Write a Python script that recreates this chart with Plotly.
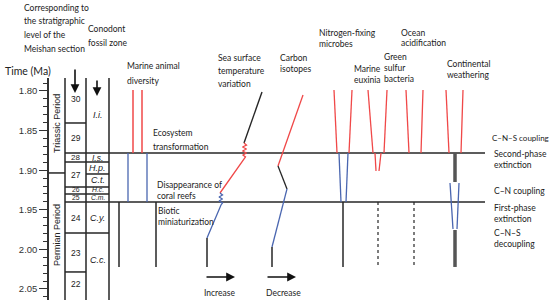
import plotly.graph_objects as go

# ---------------- data ----------------
# vertical axis: time (Ma, as labelled in the figure); horizontal: schematic column position
y_tick_vals = [1.80, 1.85, 1.90, 1.95, 2.00, 2.05]
t_top, t_bot = 1.7836, 2.0639

column_x = [65, 86, 109]
extinction_t = [1.8783, 1.9402]
extinction_x = [65, 485]
period_boundary_t = 1.9035
bed_only_bounds_t = [1.8404, 2.0285]
shared_bounds_t = [1.8896, 1.9212, 1.9300, 1.9793]
zone_only_bounds_t = [1.9048]

beds = ['30', '29', '28', '27', '26', '25', '24', '23', '22']
bed_t = [1.8101, 1.8593, 1.8846, 1.9061, 1.9244, 1.9350, 1.9604, 2.0045, 2.0437]
zones = ['I.i.', 'I.s.', 'H.p.', 'C.t.', 'H.c.', 'C.m.', 'C.y.', 'C.c.']
zone_t = [1.8303, 1.8846, 1.8972, 1.9124, 1.9244, 1.9350, 1.9604, 2.0134]

# Marine animal diversity
mad_red_x = [133, 142]
mad_red_t = [1.7988, 1.8783]
mad_blue_x = [128, 147]
mad_blue_t = [1.8783, 1.9402]
mad_black_x = [119, 156]
mad_black_t = [1.9402, 2.0222]

# Sea surface temperature variation
sst_black_x = [262, 244]
sst_black_t = [1.8013, 1.8657]
sst_red_x = [244, 246.5, 242.5, 246.5, 242.5, 246.5, 243, 245.5, 220]
sst_red_t = [1.8657, 1.8682, 1.8707, 1.8733, 1.8758, 1.8783, 1.8808, 1.8833, 1.9288]
sst_blue_x = [220, 222.5, 219, 222.5, 219, 222.5, 221, 207]
sst_blue_t = [1.9288, 1.9313, 1.9338, 1.9364, 1.9389, 1.9414, 1.9439, 1.9856]
sst_base_x = [207, 207]
sst_base_t = [1.9856, 2.0222]

# Carbon isotopes
cis_red_x = [303, 278]
cis_red_t = [1.8051, 1.8947]
cis_black_x = [278, 287]
cis_black_t = [1.8947, 1.9237]
cis_blue_x = [287, 272]
cis_blue_t = [1.9237, 1.9970]
cis_base_x = [272, 272]
cis_base_t = [1.9970, 2.0222]

# Nitrogen-fixing microbes
nfm_red = [([334, 337], [1.7988, 1.8783]), ([352, 349], [1.7988, 1.8783])]
nfm_blue = [([339, 341], [1.8783, 1.9402]), ([348, 346], [1.8783, 1.9402])]
nfm_base_x = [343, 343]
nfm_base_t = [1.9402, 2.0222]

# Marine euxinia
mex_red = [([368, 373], [1.7988, 1.8783]), ([387, 384], [1.7988, 1.8783]),
           ([375, 376], [1.8783, 1.9010]), ([381, 379], [1.8783, 1.9010])]
mex_base_x = [378, 378]
mex_base_t = [1.9402, 2.0222]

# Green sulfur bacteria / ocean acidification
gsb_red = [([406, 409], [1.7988, 1.8783]), ([423, 421], [1.7988, 1.8783])]
gsb_base_x = [414, 414]
gsb_base_t = [1.9402, 2.0222]

# Continental weathering
cw_red = [([446, 449], [1.7988, 1.8783]), ([463, 461], [1.7988, 1.8783])]
cw_thick = [([455, 455], [1.8783, 1.9149]), ([455, 455], [1.9755, 2.0222])]
cw_blue = [([450, 453], [1.9162, 1.9742]), ([459, 457], [1.9162, 1.9742])]

# ---------------- figure ----------------
RED = '#f04848'
BLUE = '#4a66b0'
BLACK = '#262626'
GRAY = '#555555'

fig = go.Figure()


def seg(x, t, color, width=1.5, dash='solid'):
    fig.add_trace(go.Scatter(x=x, y=t, mode='lines', showlegend=False, hoverinfo='skip',
                             line=dict(color=color, width=width, dash=dash)))


# stratigraphic columns
for cx in column_x:
    seg([cx, cx], [t_top, t_bot], BLACK, 1.5)
for t in extinction_t:
    seg(extinction_x, [t, t], BLACK, 1.6)
seg([48, 65], [period_boundary_t, period_boundary_t], BLACK, 1.5)
for t in bed_only_bounds_t:
    seg([65, 86], [t, t], BLACK, 1.5)
for t in shared_bounds_t:
    seg([65, 109], [t, t], BLACK, 1.5)
for t in zone_only_bounds_t:
    seg([86, 109], [t, t], BLACK, 1.5)

# proxies
for x in mad_red_x:
    seg([x, x], mad_red_t, RED, 1.5)
for x in mad_blue_x:
    seg([x, x], mad_blue_t, BLUE, 1.3)
for x in mad_black_x:
    seg([x, x], mad_black_t, BLACK, 1.5)

seg(sst_black_x, sst_black_t, BLACK, 1.4)
seg(sst_red_x, sst_red_t, RED, 1.3)
seg(sst_blue_x, sst_blue_t, BLUE, 1.3)
seg(sst_base_x, sst_base_t, BLACK, 1.5)

seg(cis_red_x, cis_red_t, RED, 1.3)
seg(cis_black_x, cis_black_t, BLACK, 1.3)
seg(cis_blue_x, cis_blue_t, BLUE, 1.3)
seg(cis_base_x, cis_base_t, BLACK, 1.5)

for x, t in nfm_red:
    seg(x, t, RED, 1.3)
for x, t in nfm_blue:
    seg(x, t, BLUE, 1.3)
seg(nfm_base_x, nfm_base_t, BLACK, 1.5)

for x, t in mex_red:
    seg(x, t, RED, 1.3)
seg(mex_base_x, mex_base_t, BLACK, 1.2, 'dot')

for x, t in gsb_red:
    seg(x, t, RED, 1.3)
seg(gsb_base_x, gsb_base_t, BLACK, 1.2, 'dot')

for x, t in cw_red:
    seg(x, t, RED, 1.3)
for x, t in cw_thick:
    seg(x, t, GRAY, 3.5)
for x, t in cw_blue:
    seg(x, t, BLUE, 1.3)

# ---------------- annotations ----------------
ann = []
TXT_FONT = 'Lato, Open Sans, sans-serif'


def txt(s, x, ypx, size=8.5, anchor='left', family=TXT_FONT, **kw):
    ann.append(dict(text=s, x=x, y=1 - ypx / 300, xref='x', yref='paper', showarrow=False,
                    xanchor=anchor, yanchor='middle',
                    font=dict(family=family, size=size, color='#222'), **kw))


text_lines = [
    ('Corresponding to', 22, 8), ('the stratigraphic', 22, 21), ('level of the', 22, 35),
    ('Meishan section', 22, 49), ('Conodont', 86, 29), ('fossil zone', 86, 43),
    ('Marine animal', 125, 66), ('diversity', 125, 81),
    ('Sea surface', 216, 58), ('temperature', 216, 71), ('variation', 216, 84),
    ('Ecosystem', 151, 133), ('transformation', 151, 147),
    ('Disappearance of', 155, 185), ('coral reefs', 155, 196),
    ('Biotic', 156, 211), ('miniaturization', 156, 222),
    ('Carbon', 278, 58), ('isotopes', 278, 69),
    ('Nitrogen-fixing', 317, 33), ('microbes', 317, 44),
    ('Marine', 352, 69), ('euxinia', 352, 80),
    ('Green', 382, 57), ('sulfur', 382, 68), ('bacteria', 382, 79),
    ('Ocean', 399, 33), ('acidification', 399, 43),
    ('Continental', 445, 64), ('weathering', 445, 75),
    ('Second-phase', 492, 154), ('extinction', 492, 165),
    ('C\u2013N coupling', 492, 191),
    ('First-phase', 492, 208), ('extinction', 492, 219),
    ('C\u2013N\u2013S', 492, 233), ('decoupling', 492, 244),
    ('Increase', 202, 293), ('Decrease', 264, 293),
]
for s, x, y in text_lines:
    txt(s, x, y)
txt('C\u2013N\u2013S coupling', 490, 138, size=8)

txt('Time (Ma)', 3, 71, size=10.5)

ARIAL = 'Liberation Sans, Arial, sans-serif'
txt('Triassic Period', 57, 124, size=9, anchor='center', family=ARIAL, textangle=-90)
txt('Permian Period', 57, 235, size=9, anchor='center', family=ARIAL, textangle=-90)

bed_sizes = [8.5, 8.5, 8, 8.5, 6.8, 6.8, 8.5, 8.5, 8.5]
for b, t, s in zip(beds, bed_t, bed_sizes):
    ann.append(dict(text=b, x=75.5, y=t, xref='x', yref='y', showarrow=False, borderpad=0,
                    font=dict(family=ARIAL, size=s, color='#222')))
zone_sizes = [9, 8.5, 9, 9, 6.8, 6.8, 9, 9]
for z, t, s in zip(zones, zone_t, zone_sizes):
    ann.append(dict(text='<i>' + z + '</i>', x=97.5, y=t, xref='x', yref='y', showarrow=False,
                    borderpad=0, font=dict(family=ARIAL, size=s, color='#222')))

# arrows
for x, ytip, L in [(75, 93, 25), (97, 96, 17)]:
    ann.append(dict(x=x, y=1 - ytip / 300, xref='x', yref='paper', ax=0, ay=-L,
                    showarrow=True, arrowhead=2, arrowsize=1.1, arrowwidth=1.6,
                    arrowcolor='#111', text=''))
for x0 in (205, 266):
    ann.append(dict(x=x0 + 30, y=1 - 277 / 300, xref='x', yref='paper', ax=-30, ay=0,
                    showarrow=True, arrowhead=2, arrowsize=1.1, arrowwidth=1.6,
                    arrowcolor='#111', text=''))

fig.update_layout(
    width=550, height=300,
    margin=dict(l=0, r=0, t=0, b=0),
    paper_bgcolor='white', plot_bgcolor='white',
    xaxis=dict(range=[0, 550], visible=False, domain=[0, 1]),
    yaxis=dict(range=[t_bot, t_top], domain=[0, 1 - 78 / 300], anchor='free', position=48 / 550,
               tickvals=y_tick_vals, tickformat='.2f', ticks='outside', ticklen=8,
               tickcolor='#333', tickwidth=1.2, showline=True, linecolor='#333', linewidth=1.5,
               showgrid=False, zeroline=False,
               tickfont=dict(family='Liberation Sans Narrow, Arial Narrow, Liberation Sans', size=9.5, color='#333'),
               minor=dict(dtick=0.01, tick0=1.80, ticks='outside', ticklen=4, tickcolor='#333',
                          tickwidth=1, showgrid=False)),
    annotations=ann,
)

fig.write_html('out.html', config={'displayModeBar': False},
               post_script="document.body.style.margin='0';document.body.style.padding='0';")
